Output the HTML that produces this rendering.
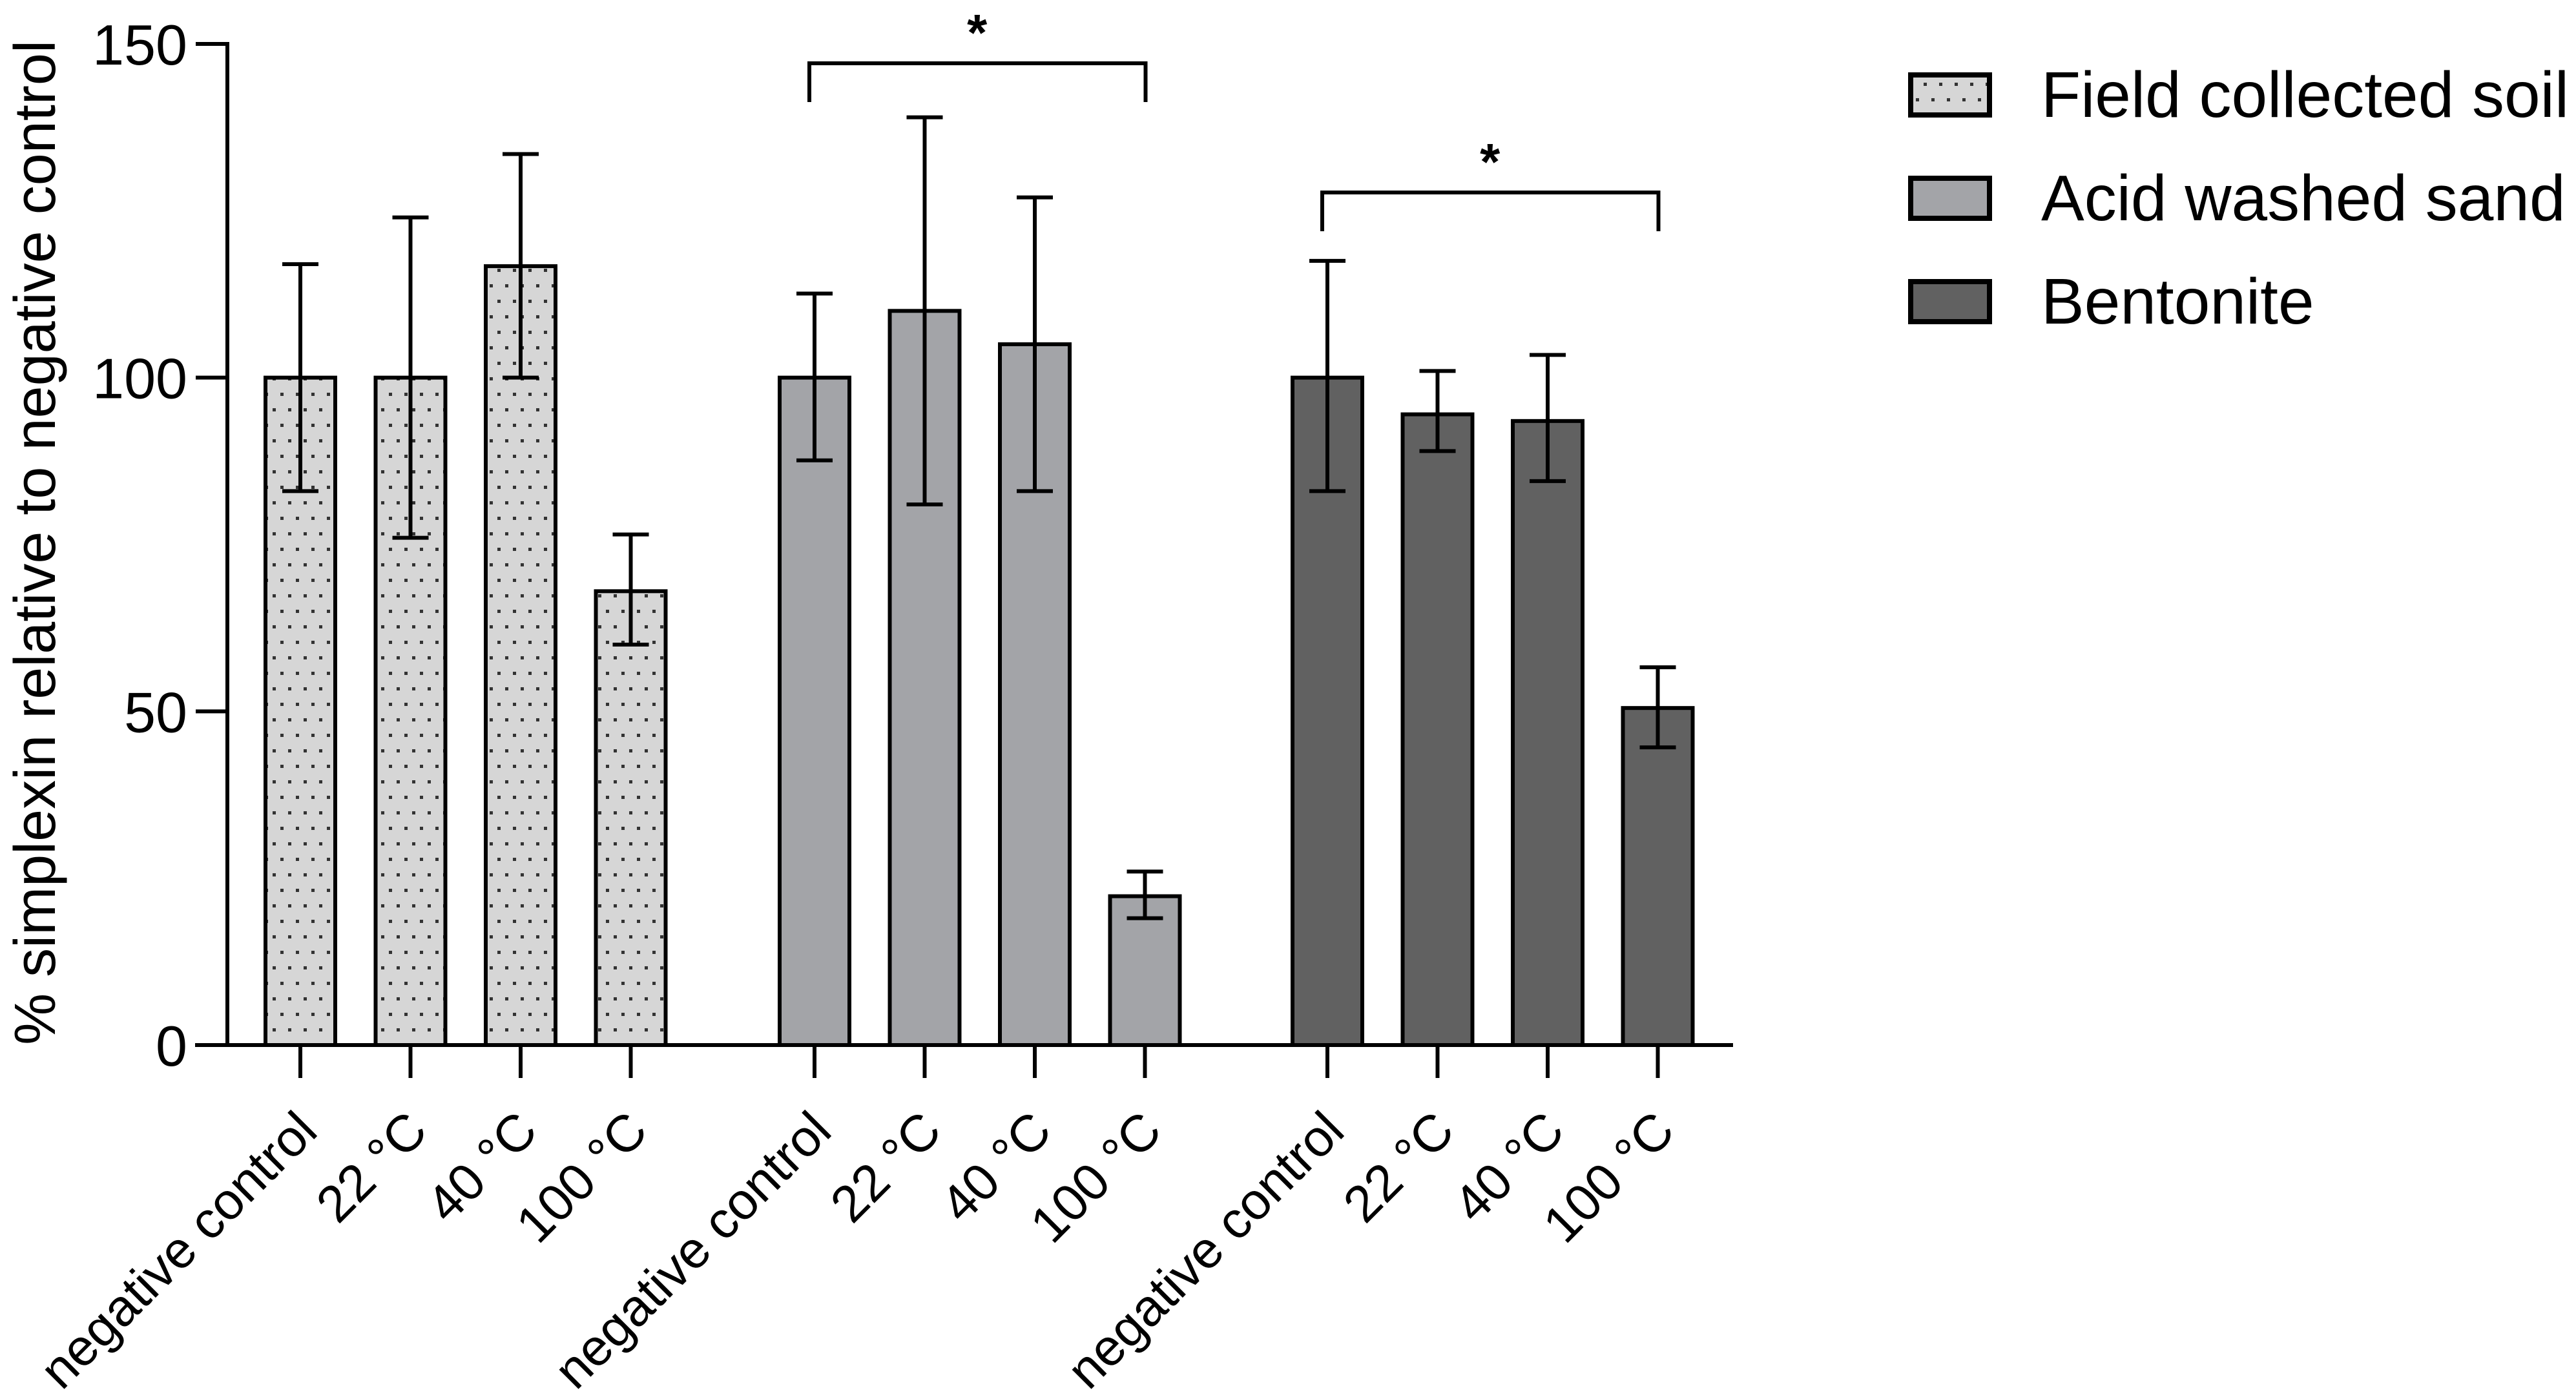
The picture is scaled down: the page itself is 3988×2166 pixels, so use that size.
<!DOCTYPE html>
<html><head><meta charset="utf-8"><style>
html,body{margin:0;padding:0;background:#fff;}
svg{display:block;font-family:"Liberation Sans",Arial,sans-serif;}
</style></head><body>
<svg id="chart" width="3988" height="2166" viewBox="0 0 3988 2166" xmlns="http://www.w3.org/2000/svg">
<defs>
<pattern id="dots" patternUnits="userSpaceOnUse" width="24" height="48" x="4" y="0">
<rect width="24" height="48" fill="#d6d6d6"/>
<rect x="10" y="8" width="5" height="5" fill="#333"/>
<rect x="22" y="32" width="5" height="5" fill="#333"/>
<rect x="-2" y="32" width="5" height="5" fill="#333"/>
</pattern>
</defs>
<g id="plot"></g>
</svg>
<script>
const categories = ["negative control","22 °C","40 °C","100 °C"];
const seriesNames = ["Field collected soil","Acid washed sand","Bentonite"];
const fieldMeans = [100, 100, 116.7, 68];
const fieldUpper = [117, 124, 133.5, 76.5];
const fieldLower = [83, 76, 100, 60];
const sandMeans = [100, 110, 105, 22.3];
const sandUpper = [112.6, 139, 127, 26];
const sandLower = [87.6, 81, 83, 19];
const bentMeans = [100, 94.5, 93.5, 50.5];
const bentUpper = [117.5, 101, 103.4, 56.6];
const bentLower = [83, 89, 84.5, 44.6];
const yTicks = [0, 50, 100, 150];
const sigPairs = [[1,0,3],[2,0,3]];

const NS="http://www.w3.org/2000/svg";
const g=document.getElementById('plot');
const y0=1618, yTop=68, yMax=150;
function Y(v){return y0-(y0-yTop)*v/yMax;}
const groupStart=[465,1261,2055], step=170.5, barW=108;
function X(s,i){return groupStart[s]+i*step;}
function mk(t,a){const e=document.createElementNS(NS,t);for(const k in a)e.setAttribute(k,a[k]);g.appendChild(e);return e;}
const fills=["url(#dots)","#a3a4a8","#616161"];
const means=[fieldMeans,sandMeans,bentMeans], ups=[fieldUpper,sandUpper,bentUpper], lows=[fieldLower,sandLower,bentLower];

let ax=mk('line',{x1:352,y1:Y(yMax)-3,x2:352,y2:y0+3,stroke:'#000','stroke-width':6});


let xa=mk('line',{x1:302,y1:y0,x2:2683,y2:y0,stroke:'#000','stroke-width':6});


yTicks.forEach(v=>{
  const t=mk('line',{x1:303,y1:Y(v),x2:352,y2:Y(v),stroke:'#000','stroke-width':6});
  
  
  const l=mk('text',{x:290,y:Y(v)+32,'font-size':88,'text-anchor':'end',fill:'#000'});
  l.textContent=v;
  
  
});
const yt=mk('text',{x:0,y:0,'font-size':90,'text-anchor':'middle',transform:'translate(85,840) rotate(-90)',fill:'#000'});
yt.textContent="% simplexin relative to negative control";



for(let s=0;s<3;s++){
  for(let i=0;i<4;i++){
    const cx=X(s,i), m=means[s][i];
    const r=mk('rect',{x:cx-barW/2,y:Y(m),width:barW,height:y0-Y(m),fill:fills[s],stroke:'#000','stroke-width':6});
    
    
    const e=mk('path',{d:`M${cx},${Y(lows[s][i])}V${Y(ups[s][i])}M${cx-28},${Y(ups[s][i])}H${cx+28}M${cx-28},${Y(lows[s][i])}H${cx+28}`,stroke:'#000','stroke-width':6,fill:'none'});
    
    
    const tk=mk('line',{x1:cx,y1:y0,x2:cx,y2:1669,stroke:'#000','stroke-width':6});
    
    
    const lb=mk('text',{x:0,y:0,'font-size':80,'text-anchor':'end',transform:`translate(${cx+30},${1755}) rotate(-45)`,fill:'#000'});
    lb.textContent=categories[i];
    
    
  }
}
const bracketY=[98,298];
sigPairs.forEach((p,k)=>{
  const s=p[0], a=X(s,p[1]), b=X(s,p[2]), by=bracketY[k];
  const br=mk('path',{d:`M${a-8},${by+60}V${by}H${b+1}V${by+60}`,stroke:'#000','stroke-width':6,fill:'none'});
  
  
  const st=mk('text',{x:(a+b)/2-4,y:by-20,'font-size':80,'font-weight':'bold','text-anchor':'middle',fill:'#000'});
  st.textContent="*";
  
  
});
const legY=[116,276,436];
seriesNames.forEach((n,k)=>{
  const sw=mk('rect',{x:2958,y:legY[k],width:122,height:62,fill:fills[k],stroke:'#000','stroke-width':8});
  
  
  const t=mk('text',{x:3160,y:legY[k]+65,'font-size':100,fill:'#000'});
  t.textContent=n;
  
  
});
</script>
</body></html>
